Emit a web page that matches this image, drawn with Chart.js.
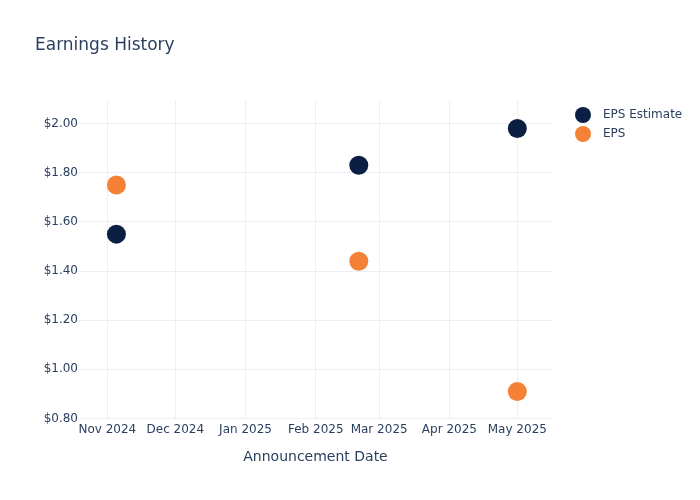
<!DOCTYPE html>
<html>
<head>
<meta charset="utf-8">
<script src="https://cdn.jsdelivr.net/npm/chart.js@4/dist/chart.umd.min.js"></script>
<style>
  html, body { margin: 0; padding: 0; background: #ffffff; }
  #wrap { width: 700px; height: 500px; }
</style>
</head>
<body>
<div id="wrap"><canvas id="c" width="700" height="500"></canvas></div>
<script>
// ---- data ----
const announcementDates = ['2024-11-05', '2025-02-20', '2025-05-01'];
const epsEstimate = [1.55, 1.83, 1.98];
const epsActual = [1.75, 1.44, 0.91];
const seriesNames = ['EPS Estimate', 'EPS'];
const xTickDates = ['2024-11-01', '2024-12-01', '2025-01-01', '2025-02-01', '2025-03-01', '2025-04-01', '2025-05-01'];
const xTickLabels = ['Nov 2024', 'Dec 2024', 'Jan 2025', 'Feb 2025', 'Mar 2025', 'Apr 2025', 'May 2025'];
const yTickValues = [0.8, 1.0, 1.2, 1.4, 1.6, 1.8, 2.0];

// ---- styling ----
const navy = '#0b1f42';
const orange = '#f58137';
const textColor = '#2a3f5f';
const gridColor = '#ebf0f8';

Chart.defaults.font.family = 'DejaVu Sans';
Chart.defaults.color = textColor;

const toMs = d => Date.parse(d + 'T00:00:00Z');
const xMin = Date.UTC(2024, 9, 19, 1);
const xMax = Date.UTC(2025, 4, 16, 18);

function circleCanvas(color) {
  const cv = document.createElement('canvas');
  cv.width = 16; cv.height = 16;
  const g = cv.getContext('2d');
  g.fillStyle = color;
  g.beginPath();
  g.arc(8, 8, 8, 0, Math.PI * 2);
  g.fill();
  return cv;
}
const legendIcons = [circleCanvas(navy), circleCanvas(orange)];

const layoutTweak = {
  id: 'layoutTweak',
  beforeLayout(chart) {
    const lg = chart.legend;
    if (lg && !lg._patched) {
      const orig = lg.fit.bind(lg);
      lg.fit = function () { orig(); this.width = 147; };
      lg._patched = true;
    }
  },
  afterLayout(chart) {
    const lg = chart.legend;
    if (lg) {
      lg.left = 562; lg.right = 700;
      lg.top = 102; lg.bottom = 400;
    }
  }
};

new Chart(document.getElementById('c'), {
  type: 'scatter',
  data: {
    datasets: [
      {
        label: seriesNames[0],
        data: announcementDates.map((d, i) => ({ x: toMs(d), y: epsEstimate[i] })),
        backgroundColor: navy,
        borderWidth: 0,
        pointRadius: 9.5,
        pointHoverRadius: 9.5
      },
      {
        label: seriesNames[1],
        data: announcementDates.map((d, i) => ({ x: toMs(d), y: epsActual[i] })),
        backgroundColor: orange,
        borderWidth: 0,
        pointRadius: 9.5,
        pointHoverRadius: 9.5
      }
    ]
  },
  options: {
    responsive: false,
    animation: false,
    devicePixelRatio: 1,
    layout: { padding: { left: 35, right: 0, top: 0, bottom: 34 } },
    plugins: {
      title: {
        display: true,
        text: 'Earnings History',
        align: 'start',
        color: textColor,
        font: { size: 17, weight: 'normal' },
        padding: { top: 35, bottom: 44.6 }
      },
      legend: {
        display: true,
        position: 'right',
        align: 'start',
        labels: {
          usePointStyle: true,
          pointStyleWidth: 28,
          color: textColor,
          font: { size: 12 },
          padding: 7,
          generateLabels(chart) {
            return chart.data.datasets.map((ds, i) => ({
              text: ds.label,
              fillStyle: ds.backgroundColor,
              strokeStyle: ds.backgroundColor,
              lineWidth: 0,
              pointStyle: legendIcons[i],
              hidden: false,
              datasetIndex: i,
              fontColor: textColor
            }));
          }
        }
      },
      tooltip: { enabled: false }
    },
    scales: {
      x: {
        type: 'linear',
        min: xMin,
        max: xMax,
        border: { display: false },
        grid: { color: gridColor, lineWidth: 1, drawTicks: false },
        afterBuildTicks(scale) {
          scale.ticks = xTickDates.map(d => ({ value: toMs(d) }));
        },
        afterFit(scale) { scale.height = 47.5; },
        ticks: {
          autoSkip: false,
          maxRotation: 0,
          minRotation: 0,
          padding: 4,
          color: textColor,
          font: { size: 12 },
          callback(value, index) { return xTickLabels[index]; }
        },
        title: {
          display: true,
          text: 'Announcement Date',
          color: textColor,
          font: { size: 14 },
          padding: { top: 0, bottom: 0 }
        }
      },
      y: {
        type: 'linear',
        min: 0.8,
        max: 2.0956,
        border: { display: false },
        grid: { color: gridColor, lineWidth: 1, drawTicks: false },
        afterBuildTicks(scale) {
          scale.ticks = yTickValues.map(v => ({ value: v }));
        },
        afterFit(scale) { scale.width = 43; },
        ticks: {
          padding: 0,
          color: textColor,
          font: { size: 12 },
          callback(value) { return '$' + Number(value).toFixed(2); }
        }
      }
    }
  },
  plugins: [layoutTweak]
});
</script>
</body>
</html>
